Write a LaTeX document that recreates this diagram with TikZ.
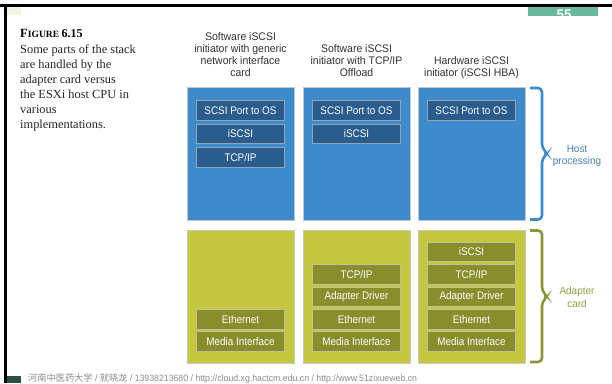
\documentclass[tikz,border=0pt]{standalone}
\usepackage{fontspec}
\setmainfont{Liberation Serif}
\newfontfamily\hdrf{Liberation Sans}[FakeStretch=0.95]
\newfontfamily\labf{Liberation Sans}[FakeStretch=0.9]
\newfontfamily\cjkf{Noto Sans CJK SC}
\definecolor{hostblue}{RGB}{62,139,204}
\definecolor{hostdark}{RGB}{42,92,142}
\definecolor{cardgreen}{RGB}{196,200,62}
\definecolor{carddark}{RGB}{138,141,44}
\definecolor{bracegreen}{RGB}{140,150,52}
\definecolor{cardtext}{RGB}{150,160,62}
\definecolor{hosttext}{RGB}{70,128,186}
\definecolor{tabgreen}{RGB}{104,184,158}
\definecolor{hdrgray}{RGB}{50,50,50}
\definecolor{cornergreen}{RGB}{40,82,62}
\tikzset{
  colbox/.style={draw=black!22, line width=0.5pt, minimum width=107pt, minimum height=133pt, inner sep=0pt},
  hostcol/.style={colbox, fill=hostblue},
  cardcol/.style={colbox, fill=cardgreen},
  layer/.style={minimum width=88pt, minimum height=19.5pt, inner sep=0pt, text=white,
    font=\labf\fontsize{11}{12}\selectfont, line width=0.7pt},
  hostlayer/.style={layer, fill=hostdark, draw=black!30!white!70!hostblue},
  cardlayer/.style={layer, fill=carddark, draw=black!10!white!60!carddark},
  header/.style={anchor=south, inner sep=0pt, text depth=0pt, align=center, text=hdrgray,
    font=\hdrf\fontsize{11}{12}\selectfont},
  sidelabel/.style={anchor=south, inner sep=0pt, text depth=0pt, align=center,
    font=\hdrf\fontsize{10.5}{12.7}\selectfont},
  bracepath/.style={line width=2.6pt, rounded corners=4pt, line cap=butt}
}
\begin{document}
\begin{tikzpicture}[x=1pt,y=-1pt]
\useasboundingbox (0,0) rectangle (612,383);
\fill[white] (0,0) rectangle (612,383);
% page edges
\fill[black] (0,4) rectangle (612,6.5);
\fill[black] (4,4) rectangle (6.5,383);
\fill[black!15!white!85!yellow!40] (6.5,6.5) rectangle (21,14.5);
\fill[tabgreen] (528,6.5) rectangle (598,15.5);
\begin{scope}
  \clip (528,6.5) rectangle (598,15.5);
  \node[text=white, font=\hdrf\bfseries\fontsize{14}{14}\selectfont, inner sep=0pt, anchor=north] (tabtxt) at (564,10) {55};
\end{scope}
\fill[cornergreen] (6.5,376) rectangle (21,383);

% caption
\node[anchor=base west, inner sep=0pt] (figlbl) at (20,37.7)
  {\bfseries\fontsize{12.5}{15}\selectfont F\fontsize{9.6}{15}\selectfont IGURE \fontsize{12}{15}\selectfont 6.15};
\node[anchor=south west, inner sep=0pt, text depth=0pt, align=left,
  font=\fontsize{12.4}{15}\selectfont, text=black!85] (caption) at (20,129)
  {Some parts of the stack\\are handled by the\\adapter card versus\\the ESXi host CPU in\\various\\implementations.};

% headers
\node[header] (hd1) at (240.5,76.5) {Software iSCSI\\initiator with generic\\network interface\\card};
\node[header] (hd2) at (356.5,76.5) {Software iSCSI\\initiator with TCP/IP\\Offload};
\node[header] (hd3) at (471.5,76.5) {Hardware iSCSI\\initiator (iSCSI HBA)};

% columns
\node[hostcol] (h1) at (240.5,153.5) {};
\node[hostcol] (h2) at (356.5,153.5) {};
\node[hostcol] (h3) at (471.5,153.5) {};
\node[cardcol] (c1) at (240.5,296.5) {};
\node[cardcol] (c2) at (356.5,296.5) {};
\node[cardcol] (c3) at (471.5,296.5) {};

% host layers
\node[hostlayer] (h1a) at (240.5,110.5) {SCSI Port to OS};
\node[hostlayer] (h1b) at (240.5,134) {iSCSI};
\node[hostlayer] (h1c) at (240.5,157.5) {TCP/IP};
\node[hostlayer] (h2a) at (356.5,110.5) {SCSI Port to OS};
\node[hostlayer] (h2b) at (356.5,134) {iSCSI};
\node[hostlayer] (h3a) at (471.5,110.5) {SCSI Port to OS};

% card layers
\node[cardlayer] (c1d) at (240.5,319.1) {Ethernet};
\node[cardlayer] (c1e) at (240.5,341.5) {Media Interface};
\node[cardlayer] (c2b) at (356.5,274.3) {TCP/IP};
\node[cardlayer] (c2c) at (356.5,296.7) {Adapter Driver};
\node[cardlayer] (c2d) at (356.5,319.1) {Ethernet};
\node[cardlayer] (c2e) at (356.5,341.5) {Media Interface};
\node[cardlayer] (c3a) at (471.5,251.9) {iSCSI};
\node[cardlayer] (c3b) at (471.5,274.3) {TCP/IP};
\node[cardlayer] (c3c) at (471.5,296.7) {Adapter Driver};
\node[cardlayer] (c3d) at (471.5,319.1) {Ethernet};
\node[cardlayer] (c3e) at (471.5,341.5) {Media Interface};

% braces
\draw[bracepath, hostblue] (530,88) -- (542,88) -- (542,148) -- (547.5,153.5) -- (542,159) -- (542,219.5) -- (530,219.5);
\draw[bracepath, bracegreen] (530,230.5) -- (542,230.5) -- (542,291) -- (547.5,296.5) -- (542,302) -- (542,362) -- (530,362);

\node[sidelabel, text=hosttext] (hostlbl) at (577,165) {Host\\processing};
\node[sidelabel, text=cardtext] (cardlbl) at (577,307.7) {Adapter\\card};

% watermark
\node[anchor=base west, inner sep=0pt, text=black!45, font=\hdrf\fontsize{9.2}{10}\selectfont] (wm) at (28,381)
  {{\cjkf 河南中医药大学} / {\cjkf 就晓龙} / 13938213680 / http://cloud.xg.hactcm.edu.cn / http://www.51zixueweb.cn};
\end{tikzpicture}
\end{document}
